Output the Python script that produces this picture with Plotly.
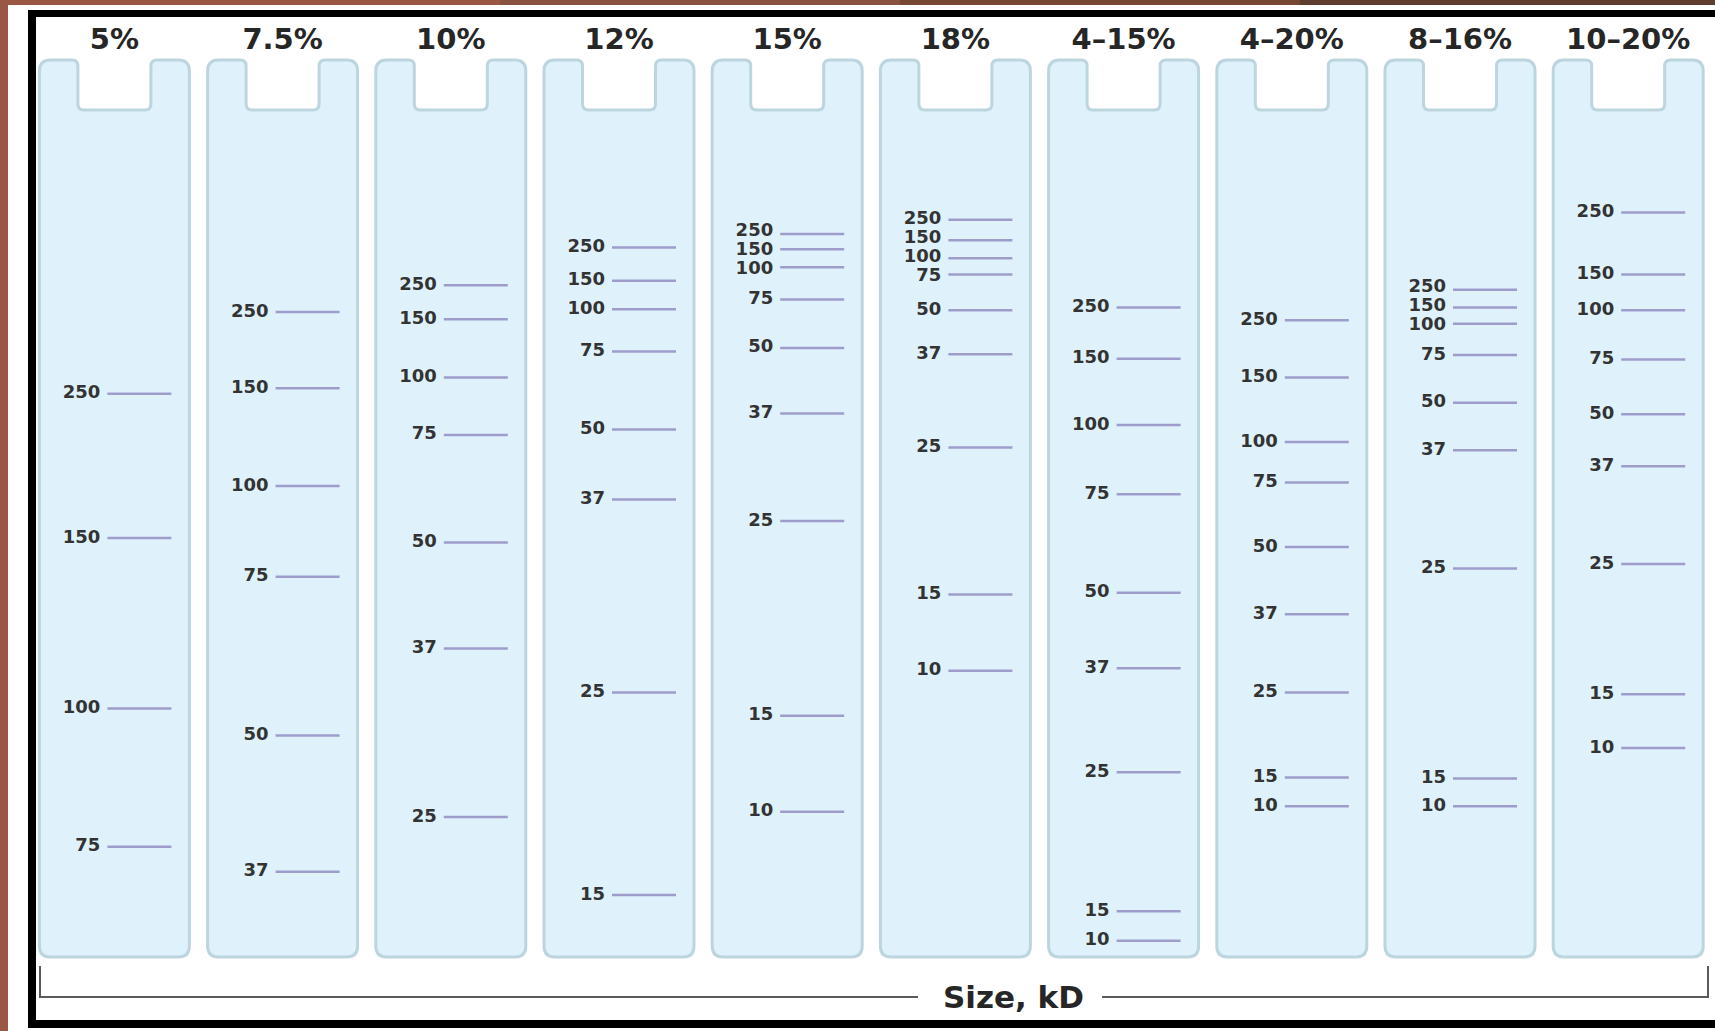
import plotly.graph_objects as go

# ---------------- data ----------------
gel_names = ["5%", "7.5%", "10%", "12%", "15%", "18%", "4–15%", "4–20%", "8–16%", "10–20%"]

# marker sizes (kD) per gel and their migration (% of gel length from the well top)
sizes_5 = ["250", "150", "100", "75"]
mig_5 = [37.2, 53.3, 72.3, 87.7]

sizes_7_5 = ["250", "150", "100", "75", "50", "37"]
mig_7_5 = [28.1, 36.6, 47.5, 57.6, 75.3, 90.5]

sizes_10 = ["250", "150", "100", "75", "50", "37", "25"]
mig_10 = [25.1, 28.9, 35.4, 41.8, 53.8, 65.6, 84.4]

sizes_12 = ["250", "150", "100", "75", "50", "37", "25", "15"]
mig_12 = [20.9, 24.6, 27.8, 32.5, 41.2, 49.0, 70.5, 93.1]

sizes_15 = ["250", "150", "100", "75", "50", "37", "25", "15", "10"]
mig_15 = [19.4, 21.1, 23.1, 26.7, 32.1, 39.4, 51.4, 73.1, 83.8]

sizes_18 = ["250", "150", "100", "75", "50", "37", "25", "15", "10"]
mig_18 = [17.8, 20.1, 22.1, 23.9, 27.9, 32.8, 43.2, 59.6, 68.1]

sizes_4_15 = ["250", "150", "100", "75", "50", "37", "25", "15", "10"]
mig_4_15 = [27.6, 33.3, 40.7, 48.4, 59.4, 67.8, 79.4, 94.9, 98.2]

sizes_4_20 = ["250", "150", "100", "75", "50", "37", "25", "15", "10"]
mig_4_20 = [29.0, 35.4, 42.6, 47.1, 54.3, 61.8, 70.5, 80.0, 83.2]

sizes_8_16 = ["250", "150", "100", "75", "50", "37", "25", "15", "10"]
mig_8_16 = [25.6, 27.6, 29.4, 32.9, 38.2, 43.5, 56.7, 80.1, 83.2]

sizes_10_20 = ["250", "150", "100", "75", "50", "37", "25", "15", "10"]
mig_10_20 = [17.0, 23.9, 27.9, 33.4, 39.5, 45.3, 56.2, 70.7, 76.7]

axis_title = "Size, kD"

all_sizes = [sizes_5, sizes_7_5, sizes_10, sizes_12, sizes_15, sizes_18,
             sizes_4_15, sizes_4_20, sizes_8_16, sizes_10_20]
all_mig = [mig_5, mig_7_5, mig_10, mig_12, mig_15, mig_18,
           mig_4_15, mig_4_20, mig_8_16, mig_10_20]

# ---------------- layout geometry (pixels -> axis units) ----------------
W, H = 1715, 1031
X0_PX, PITCH_PX = 114.4, 168.2      # lane 0 centre, lane pitch
Y0_PX, GEL_PX = 60.0, 897.0          # gel top, gel length
LABEL_SIZE = 18


def xu(px):
    return (px - X0_PX) / PITCH_PX


def yu(px):
    return (px - Y0_PX) / GEL_PX * 100.0


def dx(px):
    return px / PITCH_PX


def dy(px):
    return px / GEL_PX * 100.0


def px_paper_x(px):
    return px / W


def px_paper_y(px):
    return 1 - px / H


def spread(vals, gap):
    """nudge label positions apart so that neighbours keep at least `gap`"""
    v = list(vals)
    for _ in range(200):
        moved = False
        for k in range(len(v) - 1):
            d = v[k + 1] - v[k]
            if d < gap - 1e-9:
                s = (gap - d) / 2
                v[k] -= s
                v[k + 1] += s
                moved = True
        if not moved:
            break
    return v


shapes = []
# brown background is the paper; darker brown toward top-right
for (a, b, col) in [(500, 900, "#8a5240"), (900, 1300, "#764834"), (1300, W + 20, "#5f3e2f")]:
    shapes.append(dict(type="rect", xref="paper", yref="paper", layer="below",
                       x0=px_paper_x(a), x1=px_paper_x(b), y0=px_paper_y(6), y1=px_paper_y(-5),
                       fillcolor=col, line=dict(width=0)))
# white sheet
shapes.append(dict(type="rect", xref="paper", yref="paper", layer="below",
                   x0=px_paper_x(8), x1=px_paper_x(W + 20), y0=px_paper_y(H + 20), y1=px_paper_y(5),
                   fillcolor="white", line=dict(width=0)))
# black frame
shapes.append(dict(type="rect", xref="paper", yref="paper", layer="below",
                   x0=px_paper_x(28), x1=px_paper_x(W + 20), y0=px_paper_y(1028), y1=px_paper_y(10),
                   fillcolor="black", line=dict(width=0)))
shapes.append(dict(type="rect", xref="paper", yref="paper", layer="below",
                   x0=px_paper_x(36), x1=px_paper_x(W + 20), y0=px_paper_y(1020), y1=px_paper_y(17),
                   fillcolor="white", line=dict(width=0)))

# lanes (gel outlines with well)
half = dx(75)
notch_half = dx(36.5)
notch_bottom = yu(110)
rx, ry = dx(11), dy(11)
rx2, ry2 = dx(6), dy(6)
for i in range(len(gel_names)):
    c = i
    L, R, T, B = c - half, c + half, 0.0, 100.0
    NL, NR, NB = c - notch_half, c + notch_half, notch_bottom
    pts = [
        f"M {L},{T + ry}",
        f"Q {L},{T} {L + rx},{T}",
        f"L {NL - rx2},{T}",
        f"Q {NL},{T} {NL},{T + ry2}",
        f"L {NL},{NB - ry2}",
        f"Q {NL},{NB} {NL + rx2},{NB}",
        f"L {NR - rx2},{NB}",
        f"Q {NR},{NB} {NR},{NB - ry2}",
        f"L {NR},{T + ry2}",
        f"Q {NR},{T} {NR + rx2},{T}",
        f"L {R - rx},{T}",
        f"Q {R},{T} {R},{T + ry}",
        f"L {R},{B - ry}",
        f"Q {R},{B} {R - rx},{B}",
        f"L {L + rx},{B}",
        f"Q {L},{B} {L},{B - ry}",
        "Z",
    ]
    shapes.append(dict(type="path", xref="x", yref="y", layer="below",
                       path=" ".join(pts), fillcolor="#dff2fb",
                       line=dict(color="#bdd5de", width=3)))

# bracket for "Size, kD"
br_y = yu(997)
br_top = yu(966)
line_style = dict(color="#5a5a5a", width=2)
shapes.append(dict(type="path", xref="x", yref="y", layer="above",
                   path=f"M {xu(40)},{br_top} L {xu(40)},{br_y} L {xu(918)},{br_y}",
                   line=line_style))
shapes.append(dict(type="path", xref="x", yref="y", layer="above",
                   path=f"M {xu(1102)},{br_y} L {xu(1708)},{br_y} L {xu(1708)},{br_top}",
                   line=line_style))

# ---------------- traces ----------------
band_x, band_y, lab_x, lab_y, lab_t = [], [], [], [], []
for i, (szs, migs) in enumerate(zip(all_sizes, all_mig)):
    lab_pos = spread(migs, dy(LABEL_SIZE + 1))
    for s, m, lp in zip(szs, migs, lab_pos):
        band_x += [i - dx(7), i + dx(57), None]
        band_y += [m, m, None]
        lab_x.append(i - dx(14))
        lab_y.append(lp)
        lab_t.append(s)

fig = go.Figure()
fig.add_trace(go.Scatter(x=band_x, y=band_y, mode="lines",
                         line=dict(color="#9e9ccb", width=2.5),
                         hoverinfo="skip", showlegend=False))
fig.add_trace(go.Scatter(x=lab_x, y=lab_y, mode="text", text=lab_t,
                         textposition="middle left",
                         textfont=dict(family="DejaVu Sans", size=LABEL_SIZE, color="#333333", weight="bold"),
                         hoverinfo="skip", showlegend=False))
fig.add_trace(go.Scatter(x=list(range(len(gel_names))), y=[yu(42)] * len(gel_names),
                         mode="text", text=gel_names, textposition="middle center",
                         textfont=dict(family="DejaVu Sans", size=29, color="#262626", weight="bold"),
                         hoverinfo="skip", showlegend=False))

fig.add_annotation(x=xu(1013), y=yu(997), xref="x", yref="y", text=axis_title,
                   showarrow=False,
                   font=dict(family="DejaVu Sans", size=31, color="#262626", weight="bold"))

fig.update_layout(
    width=W, height=H,
    margin=dict(l=0, r=0, t=0, b=0),
    paper_bgcolor="#9a5844",
    plot_bgcolor="rgba(0,0,0,0)",
    shapes=shapes,
    xaxis=dict(range=[xu(0), xu(W)], visible=False, fixedrange=True),
    yaxis=dict(range=[yu(H), yu(0)], visible=False, fixedrange=True),
    showlegend=False,
)

fig.write_html("out.html",
               config={"displayModeBar": False, "staticPlot": True},
               post_script="document.body.style.margin='0';document.body.style.overflow='hidden';")
